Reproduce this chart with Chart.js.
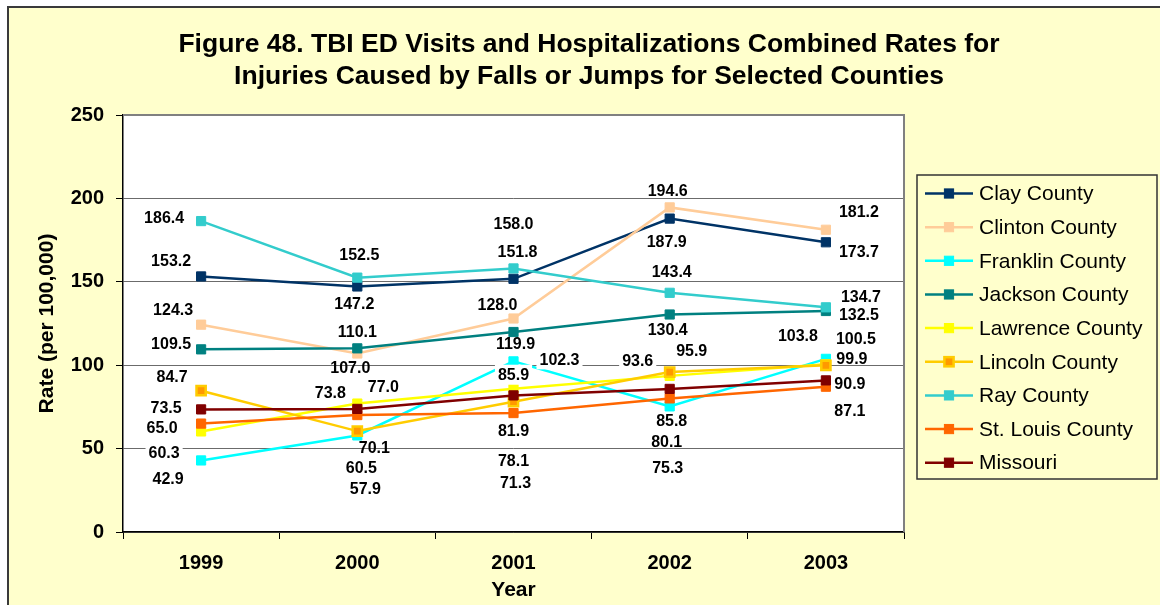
<!DOCTYPE html>
<html>
<head>
<meta charset="utf-8">
<title>TBI ED Visits and Hospitalizations - Falls or Jumps</title>
<script src="https://cdn.jsdelivr.net/npm/chart.js@4/dist/chart.umd.min.js"></script>
<style>
  html, body { margin: 0; padding: 0; background: #ffffff; }
  #wrap { width: 1160px; height: 605px; position: relative; }
  canvas { display: block; }
</style>
</head>
<body>
<div id="wrap"><canvas id="chart" width="1160" height="605"></canvas></div>
<script>
// Combined TBI rates (per 100,000) for falls or jumps, by year
const years = ['1999', '2000', '2001', '2002', '2003'];
const clayCounty     = [153.2, 147.2, 151.8, 187.9, 173.7];
const clintonCounty  = [124.3, 107.0, 128.0, 194.6, 181.2];
const franklinCounty = [42.9, 57.9, 102.3, 75.3, 103.8];
const jacksonCounty  = [109.5, 110.1, 119.9, 130.4, 132.5];
const lawrenceCounty = [60.3, 77.0, 85.9, 93.6, 100.5];
const lincolnCounty  = [84.7, 60.5, 78.1, 95.9, 99.9];
const rayCounty      = [186.4, 152.5, 158.0, 143.4, 134.7];
const stLouisCounty  = [65.0, 70.1, 71.3, 80.1, 87.1];
const missouri       = [73.5, 73.8, 81.9, 85.8, 90.9];
const yTicks = [0, 50, 100, 150, 200, 250];

const titleLines = [
  'Figure 48. TBI ED Visits and Hospitalizations Combined Rates for',
  'Injuries Caused by Falls or Jumps for Selected Counties'
];
const yAxisTitle = 'Rate (per 100,000)';
const xAxisTitle = 'Year';

const FONT = "'Liberation Sans', Arial, Helvetica, sans-serif";

// Series: name, values, line colour, marker fill, marker border
const series = [
  { name: 'Clay County',      values: clayCounty,     color: '#003366', fill: '#003366', border: '#003366' },
  { name: 'Clinton County',   values: clintonCounty,  color: '#FFCC99', fill: '#FFCC99', border: '#FFCC99' },
  { name: 'Franklin County',  values: franklinCounty, color: '#00FFFF', fill: '#00FFFF', border: '#00FFFF', labelBox: true },
  { name: 'Jackson County',   values: jacksonCounty,  color: '#008080', fill: '#008080', border: '#008080' },
  { name: 'Lawrence County',  values: lawrenceCounty, color: '#FFFF00', fill: '#FFFF00', border: '#FFFF00', labelBox: true },
  { name: 'Lincoln County',   values: lincolnCounty,  color: '#FFCC00', fill: '#FF9900', border: '#FFCC00', markerBorder: 2.5 },
  { name: 'Ray County',       values: rayCounty,      color: '#33CCCC', fill: '#33CCCC', border: '#33CCCC' },
  { name: 'St. Louis County', values: stLouisCounty,  color: '#FF6600', fill: '#FF6600', border: '#FF6600' },
  { name: 'Missouri',         values: missouri,       color: '#800000', fill: '#800000', border: '#800000' }
];

// Value-label placement relative to each point (px), one row per series
const labelPlacement = [
  [[-30, -16], [-3, 17], [4, -27], [-3, 23], [33, 9]],
  [[-28, -15], [-7, 14], [-16, -14], [-2, -17], [33, -18]],
  [[-33, 18], [8, 53], [46, -2], [-2, 61], [-28, -23]],
  [[-30, -6], [0, -17], [2, 12], [-2, 15], [33, 4]],
  [[-37, 21], [26, -17], [0, -14], [-32, -15], [30, -26]],
  [[-29, -14], [4, 37], [0, 59], [22, -21], [26, -7]],
  [[-37, -3], [2, -23], [0, -45], [2, -21], [35, -11]],
  [[-39, 4], [17, 33], [2, 70], [-3, 43], [24, 24]],
  [[-35, -2], [-27, -16], [0, 35], [2, 32], [24, 3]]
];

const datasets = series.map((s, i) => ({
  label: s.name,
  data: s.values,
  borderColor: s.color,
  backgroundColor: s.fill,
  borderWidth: 2.5,
  pointStyle: 'rect',
  pointRadius: 6.5,
  pointHoverRadius: 6.5,
  pointBackgroundColor: s.fill,
  pointBorderColor: s.border,
  pointBorderWidth: s.markerBorder || 1,
  tension: 0,
  order: -i
}));

// Background, plot frame, labels, titles and legend
const decorations = {
  id: 'decorations',
  beforeDraw(chart) {
    const ctx = chart.ctx;
    const a = chart.chartArea;
    ctx.save();
    ctx.fillStyle = '#ffffff';
    ctx.fillRect(0, 0, chart.width, chart.height);
    ctx.fillStyle = '#FFFFCC';
    ctx.fillRect(8, 7, chart.width, chart.height);
    ctx.strokeStyle = '#3a3a3a';
    ctx.lineWidth = 2;
    ctx.beginPath();
    ctx.moveTo(8, chart.height + 5);
    ctx.lineTo(8, 7);
    ctx.lineTo(chart.width + 5, 7);
    ctx.stroke();
    ctx.fillStyle = '#ffffff';
    ctx.fillRect(a.left, a.top, a.right - a.left, a.bottom - a.top);
    ctx.restore();
  },
  beforeDatasetsDraw(chart) {
    const ctx = chart.ctx;
    const a = chart.chartArea;
    ctx.save();
    ctx.strokeStyle = '#808080';
    ctx.lineWidth = 2;
    ctx.beginPath();
    ctx.moveTo(a.left, a.top);
    ctx.lineTo(a.right, a.top);
    ctx.lineTo(a.right, a.bottom);
    ctx.stroke();
    ctx.restore();
  },
  afterDatasetsDraw(chart) {
    const ctx = chart.ctx;
    ctx.save();
    ctx.font = 'bold 16px ' + FONT;
    ctx.textAlign = 'center';
    ctx.textBaseline = 'middle';
    chart.data.datasets.forEach((ds, i) => {
      const meta = chart.getDatasetMeta(i);
      meta.data.forEach((pt, j) => {
        const [dx, dy] = labelPlacement[i][j];
        const text = ds.data[j].toFixed(1);
        const x = pt.x + dx;
        const y = pt.y + dy;
        if (series[i].labelBox) {
          const w = ctx.measureText(text).width;
          ctx.fillStyle = '#ffffff';
          ctx.fillRect(x - w / 2 - 3, y - 10, w + 6, 20);
        }
        ctx.fillStyle = '#000000';
        ctx.fillText(text, x, y + 1);
      });
    });
    ctx.restore();
  },
  afterDraw(chart) {
    const ctx = chart.ctx;
    const a = chart.chartArea;
    ctx.save();
    ctx.fillStyle = '#000000';

    // Title
    ctx.font = 'bold 26.5px ' + FONT;
    ctx.textAlign = 'center';
    ctx.textBaseline = 'alphabetic';
    ctx.fillText(titleLines[0], 589, 52);
    ctx.fillText(titleLines[1], 589, 84);

    // Axis titles
    ctx.font = 'bold 21px ' + FONT;
    ctx.textBaseline = 'middle';
    ctx.fillText(xAxisTitle, (a.left + a.right) / 2, 590);
    ctx.save();
    ctx.translate(47, (a.top + a.bottom) / 2);
    ctx.rotate(-Math.PI / 2);
    ctx.fillText(yAxisTitle, 0, 0);
    ctx.restore();

    // Legend
    const lx = 917, ly = 175, lw = 240, lh = 304;
    ctx.fillStyle = '#FFFFCC';
    ctx.fillRect(lx, ly, lw, lh);
    ctx.strokeStyle = '#333333';
    ctx.lineWidth = 1.5;
    ctx.strokeRect(lx, ly, lw, lh);
    ctx.font = '21px ' + FONT;
    ctx.textAlign = 'left';
    ctx.textBaseline = 'middle';
    series.forEach((s, i) => {
      const y = 193.5 + i * 33.65;
      ctx.strokeStyle = s.color;
      ctx.lineWidth = 2.5;
      ctx.beginPath();
      ctx.moveTo(925, y);
      ctx.lineTo(973, y);
      ctx.stroke();
      const half = 4.6;
      ctx.fillStyle = s.fill;
      ctx.fillRect(949 - half, y - half, half * 2, half * 2);
      ctx.strokeStyle = s.border;
      ctx.lineWidth = s.markerBorder || 1;
      ctx.strokeRect(949 - half, y - half, half * 2, half * 2);
      ctx.fillStyle = '#000000';
      ctx.fillText(s.name, 979, y + 1);
    });
    ctx.restore();
  }
};

new Chart(document.getElementById('chart'), {
  type: 'line',
  data: { labels: years, datasets },
  options: {
    responsive: false,
    animation: false,
    devicePixelRatio: 1,
    layout: { padding: { top: 115, right: 256, bottom: 0, left: 0 } },
    plugins: {
      legend: { display: false },
      title: { display: false },
      tooltip: { enabled: false }
    },
    events: [],
    scales: {
      x: {
        type: 'category',
        offset: true,
        grid: {
          offset: true,
          drawOnChartArea: false,
          drawTicks: true,
          tickLength: 7,
          tickColor: '#000000',
          lineWidth: 1
        },
        border: { display: true, color: '#000000', width: 1.5 },
        ticks: {
          color: '#000000',
          padding: 12,
          maxRotation: 0,
          font: { family: FONT, size: 20, weight: 'bold' }
        },
        afterFit(scale) { scale.height = 73; }
      },
      y: {
        min: 0,
        max: 250,
        afterBuildTicks(scale) { scale.ticks = yTicks.map(v => ({ value: v })); },
        grid: {
          color: '#6b6b6b',
          lineWidth: 1,
          drawTicks: true,
          tickLength: 7,
          tickColor: '#000000'
        },
        border: { display: true, color: '#000000', width: 1.5 },
        ticks: {
          color: '#000000',
          padding: 12,
          font: { family: FONT, size: 20, weight: 'bold' }
        },
        afterFit(scale) { scale.width = 123; }
      }
    }
  },
  plugins: [decorations]
});
</script>
</body>
</html>
